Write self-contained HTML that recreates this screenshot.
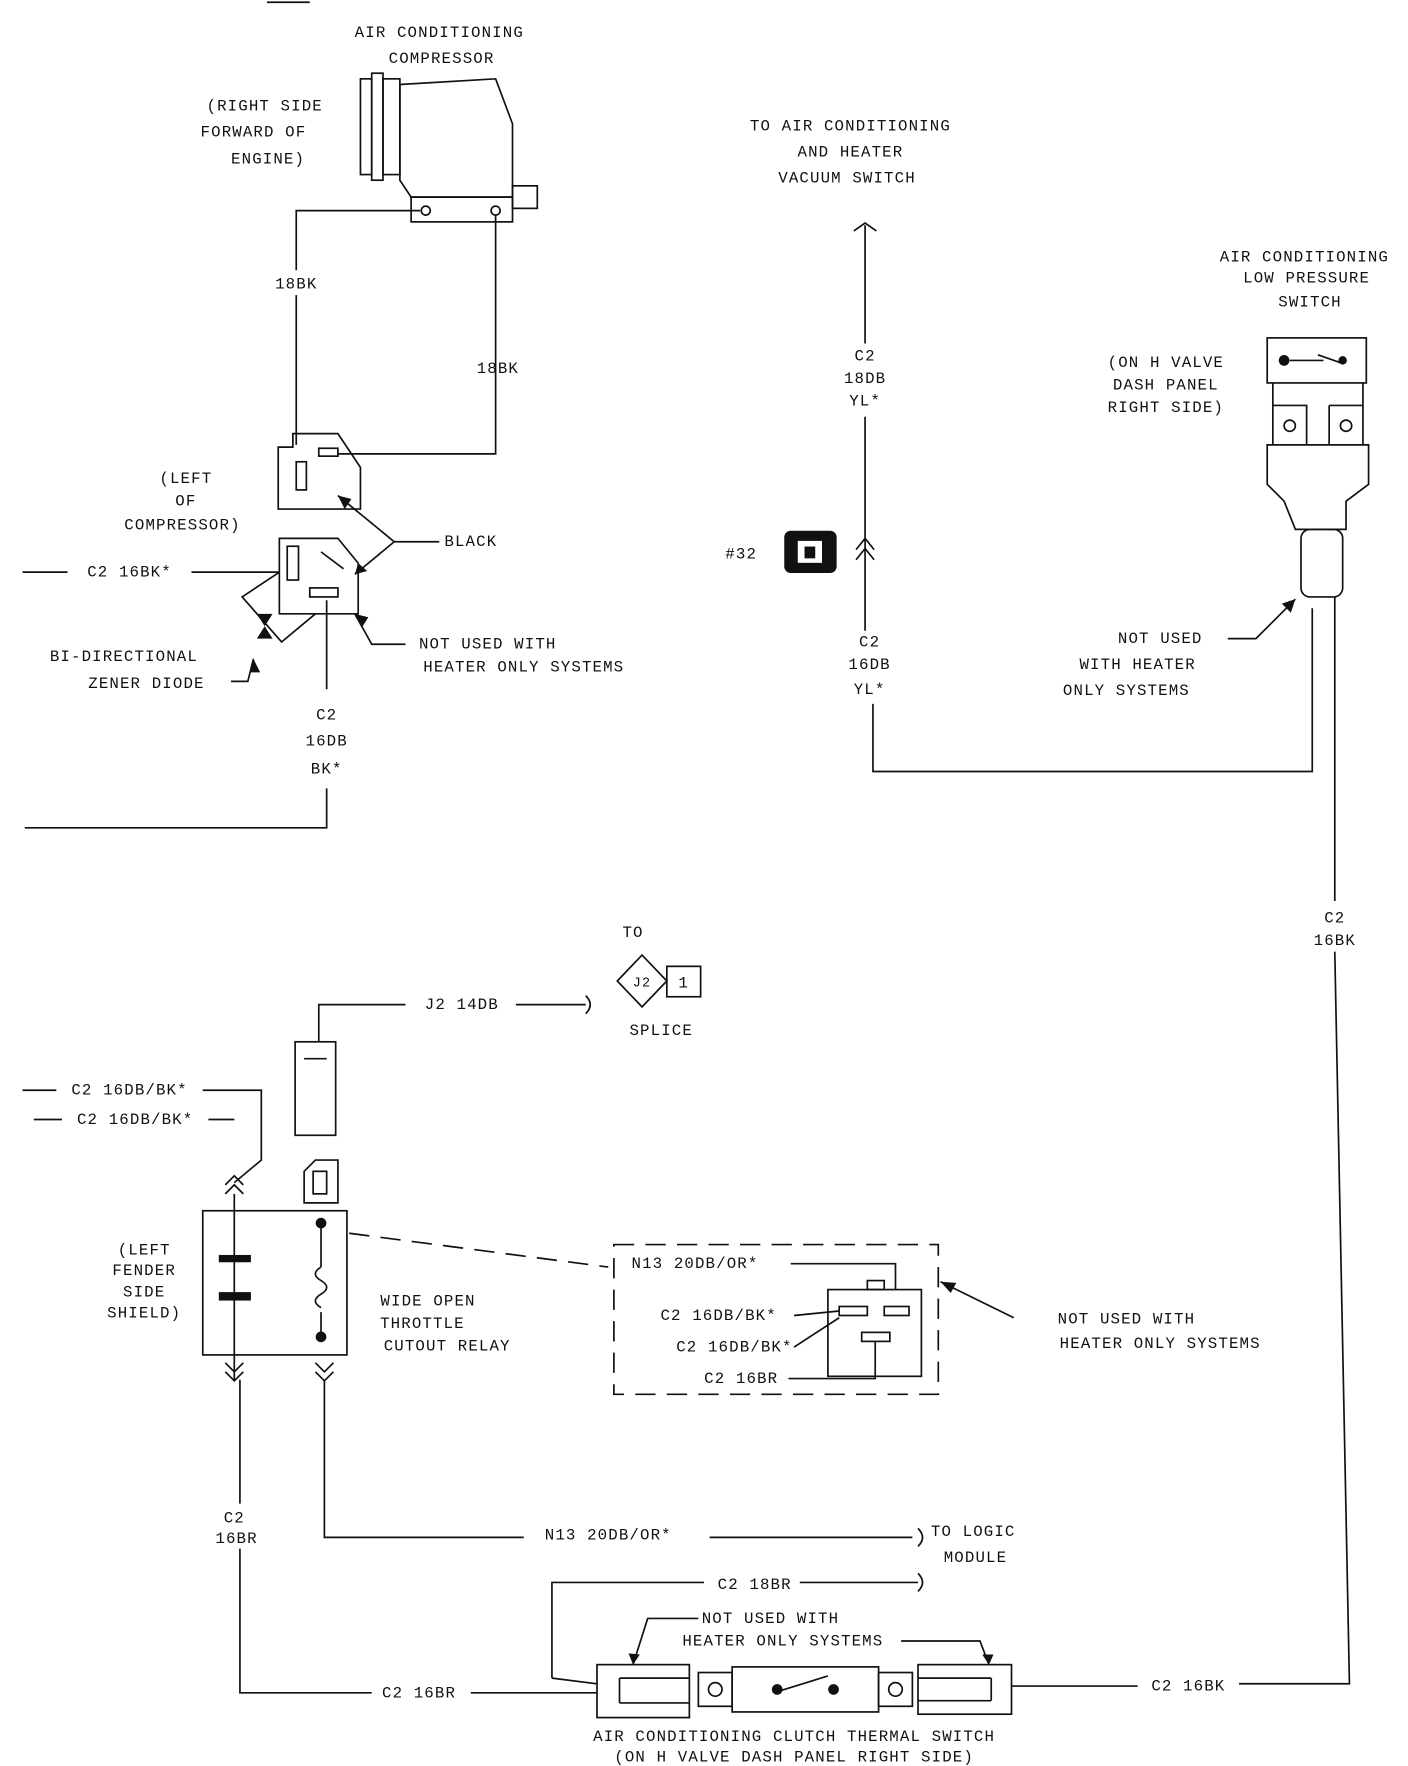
<!DOCTYPE html>
<html><head><meta charset="utf-8"><style>
html,body{margin:0;padding:0;background:#fff;}
svg{display:block}
text{font-family:"Liberation Mono","DejaVu Sans Mono",monospace;font-size:14px;fill:#111;text-anchor:middle;letter-spacing:1px}
</style></head><body>
<svg width="1408" height="1766" viewBox="0 0 1250 1568" preserveAspectRatio="none" xmlns="http://www.w3.org/2000/svg">
<g stroke="#111" stroke-width="1.5" fill="none">
<line x1="237" y1="2" x2="275" y2="2"/>
<rect x="320" y="70" width="10" height="85"/><rect x="330" y="65" width="10" height="95"/><rect x="340" y="70" width="15" height="85"/>
<path d="M355 75 L440 70 L455 110 L455 175 L365 175 L355 160 Z"/>
<rect x="365" y="175" width="90" height="22"/>
<circle cx="378" cy="187" r="4"/><circle cx="440" cy="187" r="4"/>
<rect x="455" y="165" width="22" height="20"/>
<path d="M373 187 L263 187 L263 240 M263 262 L263 395"/>
<path d="M440 191 L440 403 L300 403"/>
<path d="M247 397 L247 452 L320 452 L320 415 L300 385 L260 385 L260 397 Z"/>
<rect x="263" y="410" width="9" height="25"/><rect x="283" y="398" width="17" height="7"/>
<path d="M248 478 L300 478 L318 500 L318 545 L248 545 Z"/>
<rect x="255" y="485" width="10" height="30"/><rect x="275" y="522" width="25" height="8"/>
<line x1="285" y1="490" x2="305" y2="505"/>
<path d="M390 481 L350 481 L300 440 M350 481 L315 510"/>
<path d="M20 508 L60 508 M170 508 L248 508"/>
<path d="M248 508 L215 530 L250 570 L280 545"/>
<path d="M360 572 L330 572 L315 545"/>
<path d="M205 605 L220 605 L225 585"/>
<path d="M290 533 L290 612 M290 700 L290 735 L22 735"/>
<path d="M758 205 L768 198 L778 205 M768 200 L768 305 M768 370 L768 560 M760 488 L768 478 L776 488 M760 497 L768 487 L776 497"/>
<path d="M775 625 L775 685 L1165 685 L1165 540"/>
<rect x="697" y="472" width="45" height="36" rx="5" fill="#111"/>
<rect x="709" y="481" width="20" height="18" fill="#fff" stroke="#fff"/>
<rect x="715" y="486" width="8" height="9" fill="#111"/>
<rect x="1125" y="300" width="88" height="40"/>
<circle cx="1140" cy="320" r="4" fill="#111"/><path d="M1145 320 L1175 320 M1170 315 L1190 322" /><circle cx="1192" cy="320" r="3" fill="#111"/>
<path d="M1130 340 L1130 395 M1210 340 L1210 395 M1130 360 L1160 360 L1160 395 M1180 360 L1210 360 M1180 360 L1180 395"/>
<circle cx="1145" cy="378" r="5"/><circle cx="1195" cy="378" r="5"/>
<path d="M1125 395 L1215 395 L1215 430 L1195 445 L1195 470 L1150 470 L1140 445 L1125 430 Z"/>
<rect x="1155" y="470" width="37" height="60" rx="8"/>
<path d="M1185 530 L1185 800 M1185 845 L1198 1495 L1100 1495"/>
<path d="M1090 567 L1115 567 L1150 532"/>
<path d="M570 848 L592 871 L570 894 L548 871 Z"/>
<rect x="592" y="858" width="30" height="27"/>
<path d="M283 925 L283 892 L360 892 M458 892 L520 892 M520 884 Q528 892 520 900"/>
<rect x="262" y="925" width="36" height="83"/><line x1="270" y1="940" x2="290" y2="940"/>
<path d="M270 1068 L270 1040 L280 1030 L300 1030 L300 1068 Z"/><rect x="278" y="1040" width="12" height="20"/>
<rect x="180" y="1075" width="128" height="128"/>
<line x1="208" y1="1060" x2="208" y2="1225"/>
<rect x="195" y="1115" width="27" height="5" fill="#111"/><rect x="195" y="1148" width="27" height="6" fill="#111"/>
<circle cx="285" cy="1086" r="4" fill="#111"/><circle cx="285" cy="1187" r="4" fill="#111"/>
<path d="M285 1086 L285 1125 M285 1165 L285 1187"/>
<path d="M285 1125 q-10 6 0 12 q10 6 0 12 q-10 6 0 12"/>
<path d="M200 1060 L208 1052 L216 1060 M200 1052 L208 1044 L216 1052"/>
<path d="M20 968 L50 968 M180 968 L232 968 L232 1030 L208 1050 M30 994 L55 994 M185 994 L208 994"/>
<path d="M200 1210 L208 1218 L216 1210 M200 1218 L208 1226 L216 1218 M280 1210 L288 1218 L296 1210 M280 1218 L288 1226 L296 1218"/>
<path d="M213 1225 L213 1335 M213 1375 L213 1503 L330 1503 M418 1503 L530 1503"/>
<path d="M288 1225 L288 1365 L465 1365 M630 1365 L810 1365 M815 1357 Q823 1365 815 1373"/>
<path d="M490 1490 L490 1405 L625 1405 M710 1405 L815 1405 M815 1397 Q823 1405 815 1413"/>
<path d="M490 1490 L530 1495"/>
<path d="M620 1437 L575 1437 L562 1478 M800 1457 L870 1457 L878 1478"/>
<rect x="530" y="1478" width="82" height="47"/><path d="M550 1490 L612 1490 M550 1512 L612 1512 M550 1490 L550 1512"/>
<rect x="620" y="1485" width="30" height="30"/><circle cx="635" cy="1500" r="6"/>
<rect x="650" y="1480" width="130" height="40"/>
<circle cx="690" cy="1500" r="4" fill="#111"/><circle cx="740" cy="1500" r="4" fill="#111"/><line x1="690" y1="1502" x2="735" y2="1488"/>
<rect x="780" y="1485" width="30" height="30"/><circle cx="795" cy="1500" r="6"/>
<rect x="815" y="1478" width="83" height="44"/><path d="M815 1490 L880 1490 M815 1510 L880 1510 M880 1490 L880 1510"/>
<path d="M898 1497 L1010 1497"/>
<path d="M310 1095 L540 1125" stroke-dasharray="18,10"/>
<rect x="545" y="1105" width="288" height="133" stroke-dasharray="18,10"/>
<path d="M702 1122 L795 1122 L795 1145"/>
<rect x="735" y="1145" width="83" height="77"/>
<rect x="770" y="1137" width="15" height="8"/>
<rect x="745" y="1160" width="25" height="8"/><rect x="785" y="1160" width="22" height="8"/><rect x="765" y="1183" width="25" height="8"/>
<path d="M705 1168 L745 1164 M705 1196 L745 1170 M700 1224 L777 1224 L777 1191"/>
<path d="M900 1170 L835 1138"/>
</g>
<g fill="#111">
<polygon points="300,440 312,443 306,452"/><polygon points="315,510 318,500 326,507"/>
<polygon points="315,545 327,548 322,556"/><polygon points="225,585 222,597 231,597"/>
<polygon points="228,545 242,545 235,556"/><polygon points="228,567 242,567 235,556"/>
<polygon points="1150,532 1138,536 1146,544"/><polygon points="835,1138 849,1139 844,1148"/>
<polygon points="562,1478 558,1468 568,1469"/><polygon points="878,1478 872,1469 882,1469"/>
</g>
<text x="390" y="33">AIR CONDITIONING</text><text x="392" y="56">COMPRESSOR</text>
<text x="235" y="98">(RIGHT SIDE</text><text x="225" y="121">FORWARD OF</text><text x="238" y="145">ENGINE)</text>
<text x="263" y="256">18BK</text><text x="442" y="331">18BK</text>
<text x="165" y="429">(LEFT</text><text x="165" y="449">OF</text><text x="162" y="470">COMPRESSOR)</text>
<text x="418" y="485">BLACK</text><text x="115" y="512">C2 16BK*</text>
<text x="110" y="587">BI-DIRECTIONAL</text><text x="130" y="611">ZENER DIODE</text>
<text x="433" y="576">NOT USED WITH</text><text x="465" y="596">HEATER ONLY SYSTEMS</text>
<text x="290" y="639">C2</text><text x="290" y="662">16DB</text><text x="290" y="687">BK*</text>
<text x="755" y="116">TO AIR CONDITIONING</text><text x="755" y="139">AND HEATER</text><text x="752" y="162">VACUUM SWITCH</text>
<text x="768" y="320">C2</text><text x="768" y="340">18DB</text><text x="768" y="360">YL*</text>
<text x="658" y="496">#32</text>
<text x="772" y="574">C2</text><text x="772" y="594">16DB</text><text x="772" y="616">YL*</text>
<text x="1158" y="232">AIR CONDITIONING</text><text x="1160" y="251">LOW PRESSURE</text><text x="1163" y="272">SWITCH</text>
<text x="1035" y="326">(ON H VALVE</text><text x="1035" y="346">DASH PANEL</text><text x="1035" y="366">RIGHT SIDE)</text>
<text x="1030" y="571">NOT USED</text><text x="1010" y="594">WITH HEATER</text><text x="1000" y="617">ONLY SYSTEMS</text>
<text x="1185" y="819">C2</text><text x="1185" y="839">16BK</text>
<text x="562" y="832">TO</text><text x="570" y="876" style="font-size:12px">J2</text><text x="607" y="877">1</text><text x="587" y="919">SPLICE</text>
<text x="410" y="896">J2 14DB</text>
<text x="115" y="972">C2 16DB/BK*</text><text x="120" y="998">C2 16DB/BK*</text>
<text x="128" y="1114">(LEFT</text><text x="128" y="1132">FENDER</text><text x="128" y="1151">SIDE</text><text x="128" y="1170">SHIELD)</text>
<text x="380" y="1159">WIDE OPEN</text><text x="375" y="1179">THROTTLE</text><text x="397" y="1199">CUTOUT RELAY</text>
<text x="617" y="1126">N13 20DB/OR*</text><text x="638" y="1172">C2 16DB/BK*</text><text x="652" y="1200">C2 16DB/BK*</text><text x="658" y="1228">C2 16BR</text>
<text x="1000" y="1175">NOT USED WITH</text><text x="1030" y="1197">HEATER ONLY SYSTEMS</text>
<text x="208" y="1352">C2</text><text x="210" y="1370">16BR</text>
<text x="540" y="1367">N13 20DB/OR*</text><text x="864" y="1364">TO LOGIC</text><text x="866" y="1387">MODULE</text>
<text x="670" y="1411">C2 18BR</text><text x="684" y="1441">NOT USED WITH</text><text x="695" y="1461">HEATER ONLY SYSTEMS</text>
<text x="372" y="1507">C2 16BR</text><text x="1055" y="1501">C2 16BK</text>
<text x="705" y="1546">AIR CONDITIONING CLUTCH THERMAL SWITCH</text><text x="705" y="1564">(ON H VALVE DASH PANEL RIGHT SIDE)</text>
</svg>
</body></html>
